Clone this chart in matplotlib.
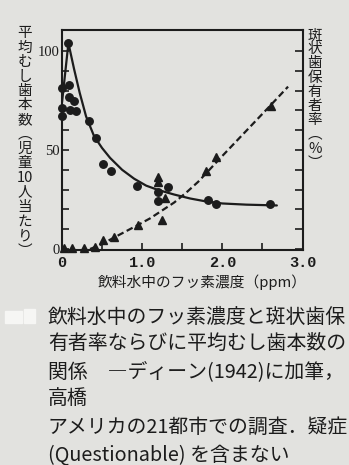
import matplotlib
matplotlib.use("Agg")
import matplotlib.pyplot as plt
from matplotlib.patches import Rectangle

# ---- data ----------------------------------------------------------------
# fluoride in drinking water (ppm) vs. mean caries per 10 children (circles)
caries_x = [0.08, 0.0, 0.09, 0.09, 0.15, 0.0, 0.0, 0.10, 0.18, 0.34, 0.42,
            0.51, 0.61, 0.93, 1.20, 1.20, 1.32, 1.82, 1.925, 2.60]
caries_y = [104, 81.5, 83, 77, 74.5, 71, 67, 70, 69.5, 64.5, 56,
            43, 39.5, 32, 29, 24, 31.5, 24.7, 22.7, 22.7]

# fluoride vs. prevalence of mottled enamel, % (triangles)
mottled_x = [0.03, 0.12, 0.27, 0.41, 0.51, 0.65, 0.95, 1.20, 1.20, 1.29,
             1.25, 1.80, 1.925, 2.61]
mottled_y = [0.5, 0.3, 0.3, 0.8, 4.4, 6.2, 12.2, 36.5, 34, 25.6,
             14.6, 39.2, 46.3, 72]

# hand-fitted trend of caries
caries_fit_x = [0.0, 0.08, 0.15, 0.22, 0.30, 0.40, 0.50, 0.60, 0.75, 0.90,
                1.05, 1.20, 1.40, 1.60, 1.80, 2.00, 2.30, 2.68]
caries_fit_y = [74, 104, 91, 79, 67, 57, 51, 46, 40, 35.5,
                32, 29.8, 27.5, 25.5, 24, 23, 22.4, 22]

# hand-fitted trend of mottled enamel
mottled_fit_x = [0.35, 0.50, 0.65, 0.80, 0.95, 1.10, 1.25, 1.40, 1.55, 1.70,
                 1.85, 2.00, 2.20, 2.40, 2.60, 2.82]
mottled_fit_y = [0, 2.5, 5.8, 9, 12.2, 15.5, 19.5, 23.5, 28.5, 34,
                 40.5, 47, 55.5, 64, 72.5, 82]

x_tick_pos = [0, 0.5, 1.0, 1.5, 2.0, 2.5, 3.0]
x_tick_labels = ["0", "", "1.0", "", "2.0", "", "3.0"]
y_tick_pos = [0, 10, 20, 30, 40, 50, 60, 70, 80, 90, 100]
y_tick_labels = ["0", "", "", "", "", "50", "", "", "", "", "100"]

left_label = ["平", "均", "む", "し", "歯", "本", "数", "︵", "児", "童",
              "10", "人", "当", "た", "り", "︶"]
right_label = ["斑", "状", "歯", "保", "有", "者", "率", "︵", "%", "︶"]
x_label = "飲料水中のフッ素濃度（ppm）"
caption = [
    "飲料水中のフッ素濃度と斑状歯保",
    "有者率ならびに平均むし歯本数の",
    "関係　―ディーン(1942)に加筆，",
    "高橋",
    "アメリカの21都市での調査．疑症",
    "(Questionable) を含まない",
]

# ---- figure --------------------------------------------------------------
W, H = 349, 465
BG = "#e2e2df"
INK = "#1c1c1c"
CJK = ["Noto Sans CJK JP", "DejaVu Sans"]

fig = plt.figure(figsize=(W / 100, H / 100), dpi=100, facecolor=BG)


def fx(px):
    return px / W


def fy(py):
    return 1 - py / H


ax = fig.add_axes([fx(62), fy(250), fx(302.5) - fx(62), fy(30) - fy(250)])
ax.set_facecolor(BG)
ax.set_xlim(0, 3.0)
ax.set_ylim(-0.5, 110.6)

for s in ax.spines.values():
    s.set_linewidth(1.5)
    s.set_color(INK)

ax.plot(caries_fit_x, caries_fit_y, color=INK, lw=1.6, solid_capstyle="round")
ax.plot(mottled_fit_x, mottled_fit_y, color=INK, lw=1.6, ls=(0, (3.0, 1.6)))
ax.plot(caries_x, caries_y, "o", color=INK, ms=5.4, clip_on=False)
ax.plot(mottled_x, mottled_y, "^", color=INK, ms=6.2, clip_on=False)

# x axis: ticks every 0.5, labels on whole numbers
ax.set_xticks(x_tick_pos)
ax.set_xticklabels(x_tick_labels, family="Liberation Mono", fontsize=11,
                   color=INK, weight="bold")
ax.tick_params(axis="x", direction="in", length=5, width=1.2, pad=4,
               colors=INK)

# left axis: ticks every 10, labels at 0/50/100
ax.set_yticks(y_tick_pos)
ax.set_yticklabels(y_tick_labels, family="Liberation Serif", fontsize=10.5,
                   color=INK)
ax.tick_params(axis="y", direction="in", length=5, width=1.2, pad=1.5,
               colors=INK)

# right axis: percentage ticks, no labels
axr = ax.twinx()
axr.set_ylim(ax.get_ylim())
axr.set_yticks(y_tick_pos)
axr.set_yticklabels([])
axr.tick_params(axis="y", direction="in", length=6, width=1.2, colors=INK)
for s in axr.spines.values():
    s.set_visible(False)

# vertical axis titles, one character per cell
for i, ch in enumerate(left_label):
    fig.text(fx(25), fy(33 + i * 14.5), ch, ha="center", va="center",
             family=CJK, fontsize=10.5, color=INK)
for i, ch in enumerate(right_label):
    fig.text(fx(315), fy(35 + i * 14.2), ch, ha="center", va="center",
             family=CJK, fontsize=10.5, color=INK)

fig.text(fx(98), fy(282), x_label, ha="left", va="center",
         family=CJK, fontsize=10.6, color=INK)

# caption block
cap_y = [317, 343, 372, 398, 427, 455]
for line, y in zip(caption, cap_y):
    fig.text(fx(48), fy(y), line, ha="left", va="center",
             family=CJK, fontsize=14.3, color=INK)

# faded figure number mark
fig.patches.append(Rectangle((fx(5), fy(323)), fx(17), fy(311) - fy(323),
                             transform=fig.transFigure, color="#f6f6f4"))
fig.patches.append(Rectangle((fx(24), fy(323)), fx(11), fy(309) - fy(323),
                             transform=fig.transFigure, color="#f6f6f4"))

fig.savefig("out.png", dpi=100, facecolor=BG)
